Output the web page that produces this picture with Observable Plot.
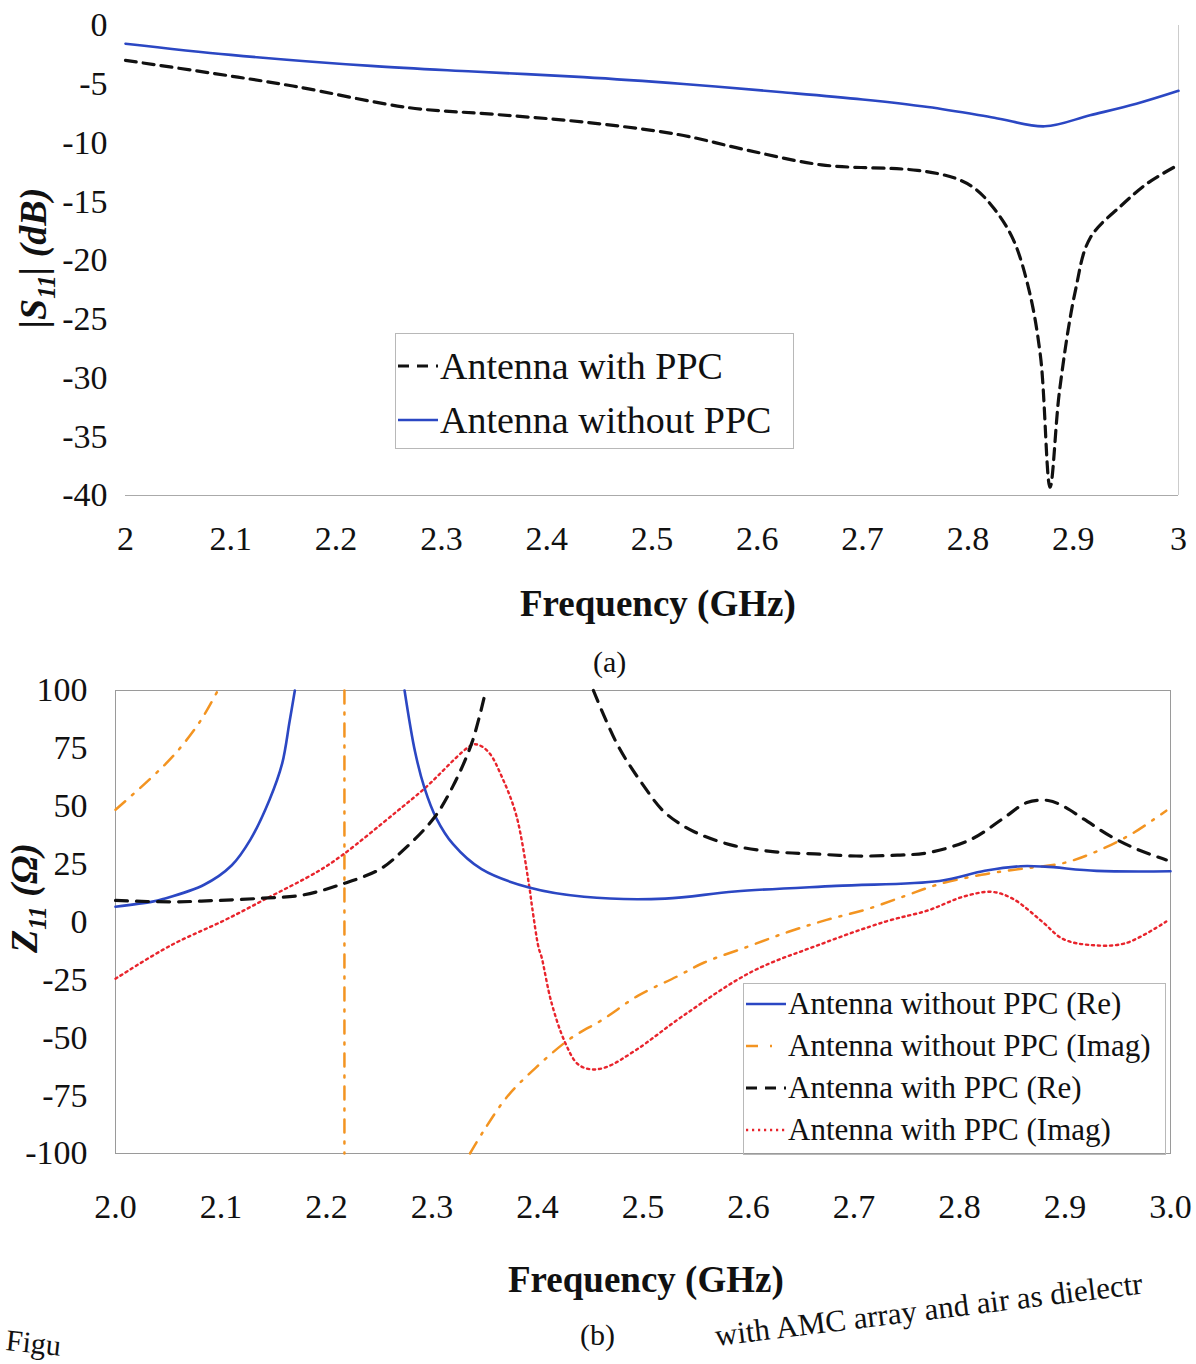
<!DOCTYPE html>
<html>
<head>
<meta charset="utf-8">
<script src="https://cdn.jsdelivr.net/npm/d3@7"></script>
<script src="https://cdn.jsdelivr.net/npm/@observablehq/plot@0.6"></script>
<style>
  body { margin: 0; background: #fff; }
  #page { position: relative; width: 1196px; height: 1364px; overflow: hidden; background: #fff;
          font-family: "Liberation Serif", "Times New Roman", serif; color: #111; }
  .abs { position: absolute; white-space: nowrap; }
  .xlab { font-weight: bold; font-size: 37px; }
  .ylab { font-weight: bold; font-style: italic; font-size: 38px; transform: translate(-50%, -50%) rotate(-90deg); }
  .legend { position: absolute; border: 1px solid #b8b8b8; }
  .row { position: absolute; left: 0; display: flex; align-items: center; }
  .row svg { flex: none; }
</style>
</head>
<body>
<div id="page">
  <div id="chartA" class="abs" style="left:0;top:0"></div>
  <div id="chartB" class="abs" style="left:0;top:650px"></div>

  <div class="abs xlab" style="left:520px;top:582px">Frequency (GHz)</div>
  <div class="abs" style="left:593px;top:645px;font-size:30px">(a)</div>
  <div class="abs ylab" style="left:36px;top:258px">|S<sub style="font-size:25px">11</sub>| (dB)</div>

  <div class="abs xlab" style="left:508px;top:1258px">Frequency (GHz)</div>
  <div class="abs" style="left:580px;top:1318px;font-size:30px">(b)</div>
  <div class="abs ylab" style="left:27px;top:898px">Z<sub style="font-size:25px">11</sub> (Ω)</div>

  <div id="legA" class="legend" style="left:395px;top:333px;width:397px;height:114px"></div>
  <div id="legB" class="legend" style="left:743px;top:983px;width:421px;height:170px"></div>

  <div class="abs" style="left:6px;top:1326px;font-size:30px;transform:rotate(6deg)">Figu</div>
  <div class="abs" style="left:715px;top:1318px;font-size:31px;transform:rotate(-7deg);transform-origin:left center">with AMC array and air as dielectr</div>
</div>
<script>
// ---------- Panel (a): |S11| (dB) ----------
const freqTicksA = [2, 2.1, 2.2, 2.3, 2.4, 2.5, 2.6, 2.7, 2.8, 2.9, 3];
const dbTicks = [0, -5, -10, -15, -20, -25, -30, -35, -40];

const s11WithoutPPC = [
  [2.0, -1.55], [2.1, -2.5], [2.233, -3.44], [2.33, -3.92], [2.435, -4.39], [2.53, -4.98],
  [2.624, -5.68], [2.7, -6.3], [2.762, -6.94], [2.825, -7.85], [2.873, -8.58], [2.916, -7.64],
  [2.96, -6.66], [3.0, -5.56]
];
const s11WithPPC = [
  [2.0, -2.97], [2.08, -4.03], [2.159, -5.15], [2.269, -6.99], [2.35, -7.56], [2.435, -8.22],
  [2.525, -9.28], [2.588, -10.56], [2.661, -11.86], [2.752, -12.33], [2.788, -13.0], [2.807, -13.9],
  [2.825, -15.6], [2.843, -18.2], [2.858, -22.5], [2.869, -28.2], [2.878, -39.3], [2.887, -31.1],
  [2.902, -22.6], [2.916, -18.1], [2.946, -15.3], [2.971, -13.4], [2.997, -12.0]
];

// ---------- Panel (b): Z11 (Ohm) ----------
const freqTicksB = [2.0, 2.1, 2.2, 2.3, 2.4, 2.5, 2.6, 2.7, 2.8, 2.9, 3.0];
const ohmTicks = [100, 75, 50, 25, 0, -25, -50, -75, -100];

const zWithoutRe = [
  [2.0, 6.6], [2.035, 8.8], [2.045, 9.9], [2.084, 16.1], [2.11, 24.4], [2.128, 35.7], [2.146, 52.8],
  [2.158, 68.5], [2.165, 86.6], [2.17, 100], [2.22, null], [2.274, 100], [2.284, 73.4], [2.293, 57.7],
  [2.304, 44.9], [2.32, 33.6], [2.347, 22.8], [2.392, 14.9], [2.444, 10.9], [2.521, 10.1],
  [2.587, 13.2], [2.683, 15.6], [2.781, 17.7], [2.824, 22.1], [2.858, 24.1], [2.881, 23.9],
  [2.93, 22.1], [3.0, 21.9]
];
const zWithoutIm = [
  [2.0, 48.5], [2.032, 61.5], [2.057, 72.9], [2.081, 87.2], [2.097, 100], [2.15, null],
  [2.217, 100], [2.217, -100], [2.28, null], [2.336, -100], [2.349, -90.2], [2.371, -75.6],
  [2.398, -63.1], [2.431, -50.4], [2.462, -42.1], [2.495, -31.9], [2.532, -23.6], [2.558, -17.5],
  [2.599, -10.7], [2.638, -4.2], [2.674, 0.9], [2.712, 5.5], [2.748, 11.2], [2.781, 16.4],
  [2.821, 20.4], [2.861, 23.1], [2.898, 25.4], [2.93, 30.5], [2.963, 38], [2.996, 48.1]
];
const zWithRe = [
  [2.0, 9.3], [2.052, 8.7], [2.096, 9.3], [2.14, 10.3], [2.177, 11.6], [2.215, 16.4], [2.251, 22.9],
  [2.272, 30.7], [2.302, 45], [2.32, 58.8], [2.338, 77.7], [2.351, 100], [2.4, null], [2.453, 100],
  [2.476, 76.4], [2.499, 59.9], [2.521, 47.2], [2.549, 38.9], [2.587, 32.9], [2.625, 30.3],
  [2.663, 29.4], [2.702, 28.5], [2.741, 28.9], [2.77, 29.9], [2.811, 35.7], [2.841, 44.6],
  [2.864, 51.6], [2.884, 52.5], [2.898, 50.1], [2.918, 44.4], [2.943, 37.1], [2.97, 31.1], [2.996, 26.8]
];
const zWithIm = [
  [2.0, -24.5], [2.052, -10.2], [2.104, 0.9], [2.14, 9.4], [2.192, 21.9], [2.215, 28.9], [2.266, 47.5],
  [2.293, 57.7], [2.338, 76.5], [2.344, 76.5], [2.354, 73.2], [2.367, 61.9], [2.38, 45.9], [2.392, 15.9],
  [2.395, 6.1], [2.401, -11], [2.404, -15.4], [2.413, -34.4], [2.426, -51.9], [2.438, -61.3],
  [2.45, -63.6], [2.465, -62.7], [2.493, -55.4], [2.539, -40.2], [2.603, -21.5], [2.666, -10],
  [2.73, 0.2], [2.77, 5], [2.804, 11], [2.831, 13], [2.851, 9.9], [2.878, 0.3], [2.898, -7.3],
  [2.923, -9.9], [2.957, -9.2], [2.996, 0.2]
];

const BLUE = "#2b47c3", BLACK = "#111", ORANGE = "#f39421", RED = "#e8242c";
const X = d => d[0];
const Y = d => (d[1] == null ? NaN : d[1]);
const fmt = d => String(d);
const CURVE = "catmull-rom";

const chartA = Plot.plot({
  width: 1196, height: 560,
  marginTop: 25, marginBottom: 65, marginLeft: 125, marginRight: 18,
  style: { fontFamily: "'Liberation Serif', serif", background: "transparent", color: "#111" },
  x: { domain: [2, 3] },
  y: { domain: [-40, 0] },
  marks: [
    Plot.ruleY([-40], { stroke: "#aaa", strokeWidth: 1 }),
    Plot.ruleX([3], { stroke: "#ccc", strokeWidth: 1 }),
    Plot.axisY(dbTicks, { tickSize: 0, tickPadding: 18, tickFormat: fmt, fontSize: 34, label: null }),
    Plot.axisX(freqTicksA, { tickSize: 0, tickPadding: 30, tickFormat: fmt, fontSize: 34, label: null }),
    Plot.line(s11WithoutPPC, { x: X, y: Y, stroke: BLUE, strokeWidth: 2.6, curve: CURVE }),
    Plot.line(s11WithPPC, { x: X, y: Y, stroke: BLACK, strokeWidth: 3.2, strokeDasharray: "11,7", curve: CURVE })
  ]
});
document.getElementById("chartA").append(chartA);

const chartB = Plot.plot({
  width: 1196, height: 600,
  marginTop: 40, marginBottom: 97, marginLeft: 115, marginRight: 26,
  style: { fontFamily: "'Liberation Serif', serif", background: "transparent", color: "#111" },
  x: { domain: [2, 3] },
  y: { domain: [-100, 100] },
  marks: [
    Plot.frame({ stroke: "#9a9a9a", strokeWidth: 1 }),
    Plot.axisY(ohmTicks, { tickSize: 0, tickPadding: 28, tickFormat: fmt, fontSize: 34, label: null }),
    Plot.axisX(freqTicksB, { tickSize: 0, tickPadding: 40, tickFormat: d => d.toFixed(1), fontSize: 34, label: null }),
    Plot.line(zWithoutIm, { x: X, y: Y, stroke: ORANGE, strokeWidth: 2.5, strokeDasharray: "13,9,2,9", curve: CURVE }),
    Plot.line(zWithIm, { x: X, y: Y, stroke: RED, strokeWidth: 2.4, strokeDasharray: "2.2,3.8", curve: CURVE }),
    Plot.line(zWithoutRe, { x: X, y: Y, stroke: BLUE, strokeWidth: 2.6, curve: CURVE }),
    Plot.line(zWithRe, { x: X, y: Y, stroke: BLACK, strokeWidth: 3.2, strokeDasharray: "12,9", curve: CURVE })
  ]
});
document.getElementById("chartB").append(chartB);

// ---------- Legends ----------
function sample(kind, color) {
  const s = d3.create("svg").attr("width", 44).attr("height", 20);
  const g = s.append("line").attr("x1", 2).attr("x2", 42).attr("y1", 10).attr("y2", 10)
    .attr("stroke", color);
  if (kind === "solid") g.attr("stroke-width", 2.6);
  if (kind === "dash") g.attr("stroke-width", 3.2).attr("stroke-dasharray", "11,8");
  if (kind === "dashdot") g.attr("stroke-width", 2.5).attr("stroke-dasharray", "12,12,2,30");
  if (kind === "dot") g.attr("stroke-width", 2.4).attr("stroke-dasharray", "2.2,3.8");
  return s.node();
}
function legend(id, items, fontSize, rowTops) {
  const box = document.getElementById(id);
  items.forEach((it, i) => {
    const row = document.createElement("div");
    row.className = "row";
    row.style.top = rowTops[i] + "px";
    row.style.fontSize = fontSize + "px";
    row.appendChild(sample(it.kind, it.color));
    const t = document.createElement("span");
    t.textContent = it.label;
    row.appendChild(t);
    box.appendChild(row);
  });
}
const legendItemsA = [
  { label: "Antenna with PPC", kind: "dash", color: BLACK },
  { label: "Antenna without PPC", kind: "solid", color: BLUE }
];
const legendItemsB = [
  { label: "Antenna without PPC (Re)", kind: "solid", color: BLUE },
  { label: "Antenna without PPC (Imag)", kind: "dashdot", color: ORANGE },
  { label: "Antenna with PPC (Re)", kind: "dash", color: BLACK },
  { label: "Antenna with PPC (Imag)", kind: "dot", color: RED }
];
legend("legA", legendItemsA, 38, [10, 64]);
legend("legB", legendItemsB, 31, [2, 44, 86, 128]);
</script>
</body>
</html>
